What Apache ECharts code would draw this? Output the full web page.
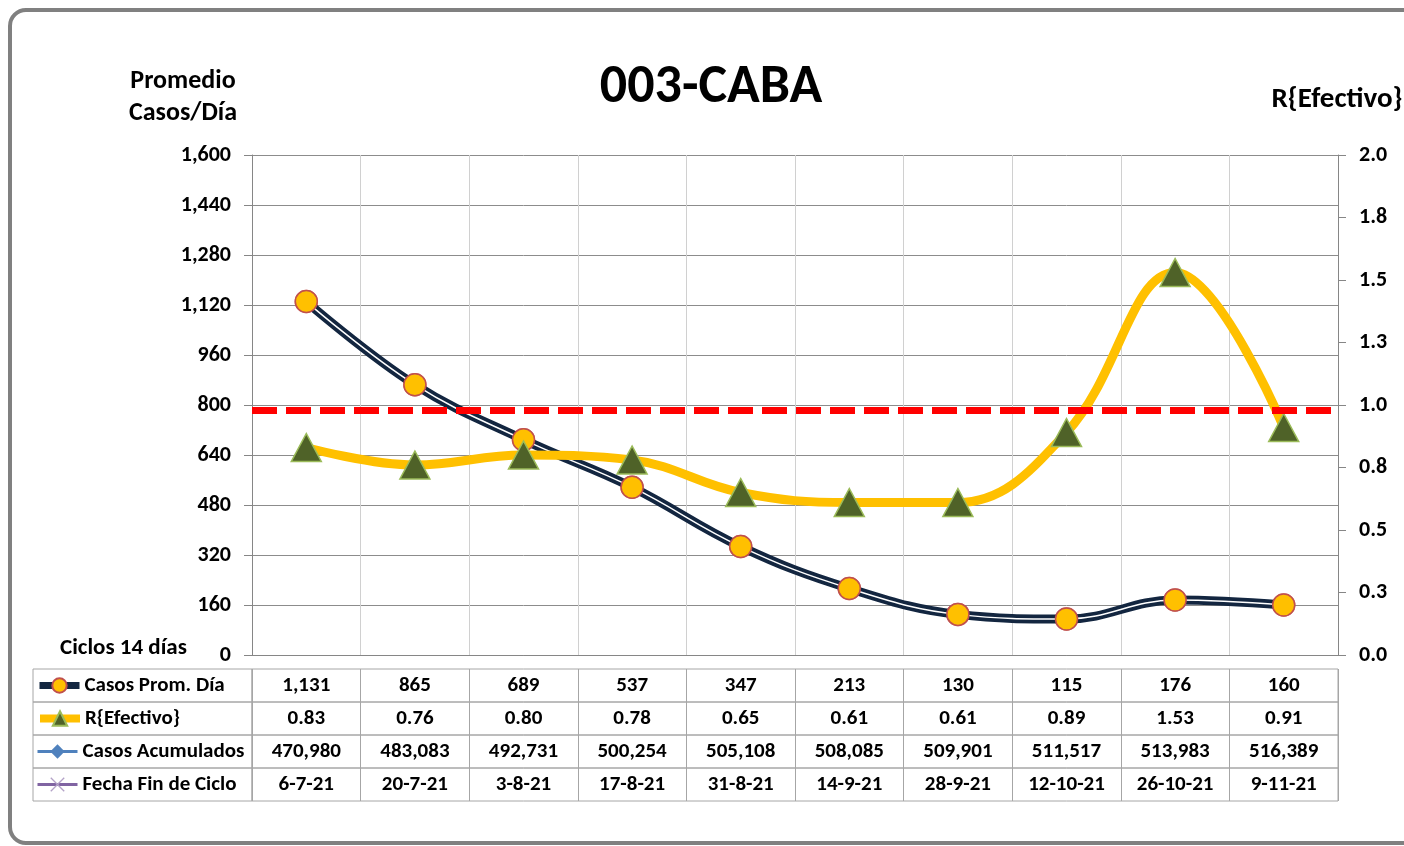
<!DOCTYPE html>
<html>
<head>
<meta charset="utf-8">
<title>003-CABA</title>
<script src="https://cdn.jsdelivr.net/npm/echarts@6/dist/echarts.min.js"></script>
<style>
  html, body { margin: 0; padding: 0; background: #fff; }
  #chart { width: 1404px; height: 846px; }
</style>
</head>
<body>
<div id="chart"></div>
<script>
// datos por ciclo de 14 dias
const fechas = ['6-7-21', '20-7-21', '3-8-21', '17-8-21', '31-8-21', '14-9-21', '28-9-21', '12-10-21', '26-10-21', '9-11-21']
const casosProm = [1131, 865, 689, 537, 347, 213, 130, 115, 176, 160]
const rEfectivo = [0.83, 0.76, 0.80, 0.78, 0.65, 0.61, 0.61, 0.89, 1.53, 0.91]
const casosAcum = [470980, 483083, 492731, 500254, 505108, 508085, 509901, 511517, 513983, 516389]
const rRef = 0.985

const FONT = 'Calibri, Carlito, Lato, sans-serif'
const fmt = v => v.toLocaleString('en-US')

const plotLeft = 252, plotRight = 66
const tblTop = 669, rowH = 33, hdrLeft = 33

const rowNames = ['Casos Prom. Día', 'R{Efectivo}', 'Casos Acumulados', 'Fecha Fin de Ciclo']
const rowValues = [
  casosProm.map(fmt),
  rEfectivo.map(v => v.toFixed(2)),
  casosAcum.map(fmt),
  fechas
]
const legendLine = [
  { color: '#132640', width: 7 },
  { color: '#ffc000', width: 8 },
  { color: '#4f81bd', width: 3 },
  { color: '#8064a2', width: 3 }
]

const chart = echarts.init(document.getElementById('chart'))

let grids = [{ left: plotLeft, right: plotRight, top: 155, bottom: 191 }]
let xAxes = [{
  type: 'category', gridIndex: 0, data: fechas, boundaryGap: true,
  axisLine: { show: true, lineStyle: { color: '#868686' } },
  axisTick: { show: false }, axisLabel: { show: false },
  splitLine: { show: true, lineStyle: { color: '#d0d0d0' } }
}]
let yAxes = [{
  type: 'value', gridIndex: 0, min: 0, max: 1600, interval: 160,
  axisLine: { show: true, lineStyle: { color: '#868686' } },
  axisTick: { show: true, length: 8, lineStyle: { color: '#868686' } },
  axisLabel: { formatter: fmt, color: '#000', fontFamily: FONT, fontWeight: 'bold', fontSize: 22, margin: 21 },
  splitLine: { show: true, lineStyle: { color: '#8c8c8c' } }
}, {
  type: 'value', gridIndex: 0, position: 'right', min: 0, max: 2, interval: 0.25,
  axisLine: { show: true, lineStyle: { color: '#868686' } },
  axisTick: { show: true, length: 8, lineStyle: { color: '#868686' } },
  axisLabel: { formatter: v => v.toFixed(1), color: '#000', fontFamily: FONT, fontWeight: 'bold', fontSize: 22, margin: 21 },
  splitLine: { show: false }
}]
let hdrGrids = []
let legends = []

rowNames.forEach((name, i) => {
  const top = tblTop + rowH * i
  // celdas de valores
  grids.push({ left: plotLeft, right: plotRight, top: top, height: rowH, show: true, borderColor: '#a6a6a6', borderWidth: 1 })
  xAxes.push({
    type: 'category', gridIndex: i + 1, data: rowValues[i], boundaryGap: true,
    axisLine: { show: false }, axisTick: { show: false },
    axisLabel: { interval: 0, margin: -rowH / 2, verticalAlign: 'middle', color: '#000', fontFamily: FONT, fontWeight: 'bold', fontSize: 21 },
    splitLine: { show: true, lineStyle: { color: '#a6a6a6' } }
  })
  yAxes.push({ type: 'value', gridIndex: i + 1, show: false, splitLine: { show: false } })
  // celda de encabezado
  hdrGrids.push({ left: hdrLeft, width: plotLeft - hdrLeft, top: top, height: rowH, show: true, borderColor: '#a6a6a6', borderWidth: 1 })
  legends.push({
    data: [{ name: name, lineStyle: legendLine[i] }], left: 36, top: top + 6, padding: 0,
    itemWidth: 40, itemHeight: 18, itemGap: 0,
    textStyle: { color: '#000', fontFamily: FONT, fontWeight: 'bold', fontSize: 21 },
    selectedMode: false
  })
})
grids = grids.concat(hdrGrids)

const option = {
  backgroundColor: '#fff',
  animation: false,
  title: [
    { text: '003-CABA', left: 706, top: 53, textAlign: 'center', textStyle: { fontFamily: FONT, fontWeight: 'bold', fontSize: 54, lineHeight: 60, color: '#000' } },
    { text: 'Promedio\nCasos/Día', left: 178, top: 60, textAlign: 'center', textStyle: { fontFamily: FONT, fontWeight: 'bold', fontSize: 26, lineHeight: 32, color: '#000' } },
    { text: 'R{Efectivo}', left: 1332, top: 78, textAlign: 'center', textStyle: { fontFamily: FONT, fontWeight: 'bold', fontSize: 29, lineHeight: 34, color: '#000' } },
    { text: 'Ciclos 14 días', left: 55, top: 629, textStyle: { fontFamily: FONT, fontWeight: 'bold', fontSize: 23, lineHeight: 28, color: '#000' } }
  ],
  graphic: [{
    type: 'rect', shape: { x: 10, y: 10, width: 1430, height: 833, r: 16 },
    style: { fill: 'none', stroke: '#808080', lineWidth: 4 }, z: -1
  }],
  legend: legends,
  grid: grids,
  xAxis: xAxes,
  yAxis: yAxes,
  series: [
    {
      name: 'Casos Prom. Día', type: 'line', xAxisIndex: 0, yAxisIndex: 0,
      data: casosProm, smooth: 0.4, symbol: 'circle', symbolSize: 22,
      lineStyle: { color: '#132640', width: 9 },
      itemStyle: { color: '#ffc000', borderColor: '#c0504d', borderWidth: 1.5 }
    },
    {
      type: 'line', xAxisIndex: 0, yAxisIndex: 0, silent: true,
      data: casosProm, smooth: 0.4, showSymbol: false,
      lineStyle: { color: '#ffffff', width: 1.5 }
    },
    {
      type: 'scatter', xAxisIndex: 0, yAxisIndex: 0, silent: true,
      data: casosProm, symbol: 'circle', symbolSize: 22,
      itemStyle: { color: '#ffc000', borderColor: '#c0504d', borderWidth: 1.5 }
    },
    {
      name: 'R{Efectivo}', type: 'line', xAxisIndex: 0, yAxisIndex: 1,
      data: rEfectivo, smooth: 0.4, symbol: 'triangle', symbolSize: [30, 28],
      lineStyle: { color: '#ffc000', width: 9 },
      itemStyle: { color: '#4f6228', borderColor: '#9bbb59', borderWidth: 1.5 }
    },
    {
      name: 'Casos Acumulados', type: 'line', xAxisIndex: 0, yAxisIndex: 0,
      data: [], symbol: 'diamond', symbolSize: 12,
      lineStyle: { color: '#4f81bd', width: 3 },
      itemStyle: { color: '#4f81bd' }
    },
    {
      name: 'Fecha Fin de Ciclo', type: 'line', xAxisIndex: 0, yAxisIndex: 0,
      data: [], symbol: 'path://M0,0L2,2L4,0L4.3,0.3L2.3,2.3L4.3,4.3L4,4.6L2,2.6L0,4.6L-0.3,4.3L1.7,2.3L-0.3,0.3Z', symbolSize: 14,
      lineStyle: { color: '#8064a2', width: 3 },
      itemStyle: { color: '#b3a2c7' }
    },
    {
      type: 'line', xAxisIndex: 0, yAxisIndex: 1, data: [], silent: true,
      markLine: {
        silent: true, symbol: 'none', label: { show: false },
        lineStyle: { color: '#ff0000', width: 7, type: [25, 9] },
        data: [{ yAxis: rRef }]
      }
    }
  ]
}

chart.setOption(option)
</script>
</body>
</html>
